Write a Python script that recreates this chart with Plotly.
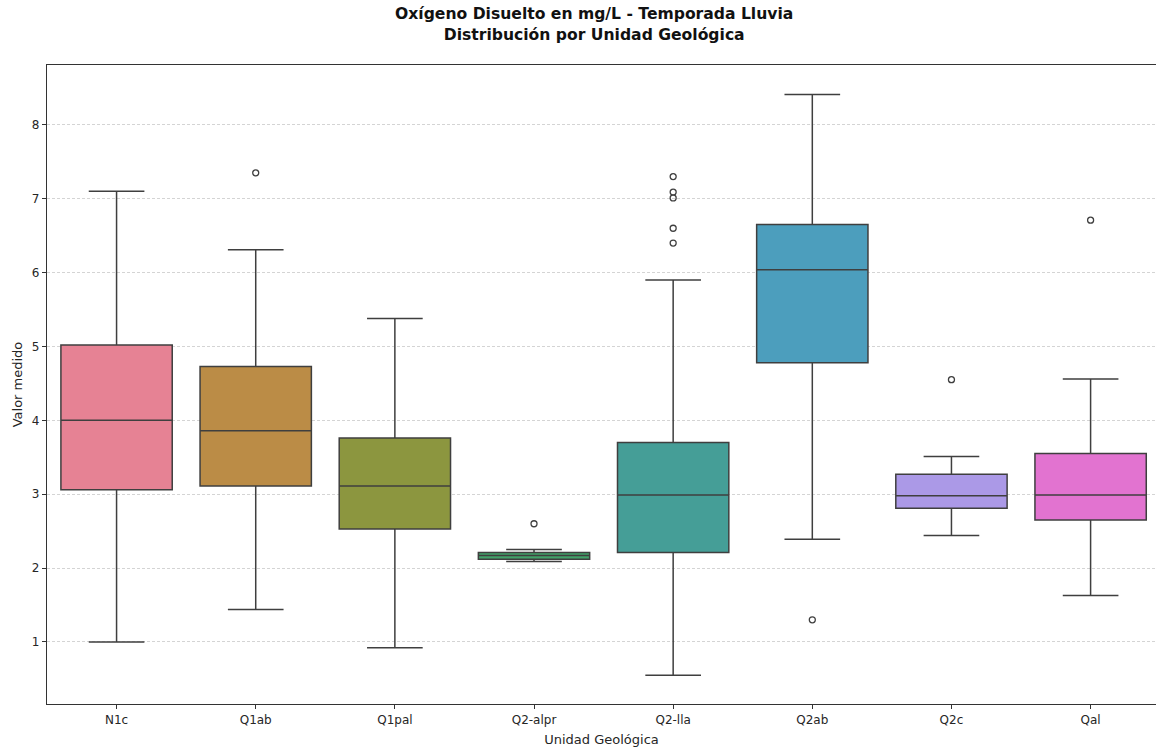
import plotly.graph_objects as go

# Unidades geológicas y estadísticos de cada caja (mg/L)
unidades = ["N1c", "Q1ab", "Q1pal", "Q2-alpr", "Q2-lla", "Q2ab", "Q2c", "Qal"]
bigote_inf = [1.00, 1.44, 0.92, 2.09, 0.55, 2.39, 2.44, 1.63]
q1 = [3.06, 3.11, 2.53, 2.12, 2.21, 4.78, 2.81, 2.65]
mediana = [4.00, 3.86, 3.11, 2.17, 2.99, 6.04, 2.98, 2.99]
q3 = [5.02, 4.73, 3.76, 2.21, 3.70, 6.65, 3.27, 3.55]
bigote_sup = [7.10, 6.31, 5.38, 2.25, 5.90, 8.41, 3.51, 4.56]

# Valores atípicos por unidad
atipicos_unidad = ["Q1ab", "Q2-alpr", "Q2-lla", "Q2-lla", "Q2-lla", "Q2-lla", "Q2-lla",
                   "Q2ab", "Q2c", "Qal"]
atipicos_valor = [7.35, 2.60, 7.30, 7.09, 7.01, 6.60, 6.40, 1.30, 4.55, 6.71]

colores = ["#e68294", "#bb8c46", "#8c963f", "#42a169",
           "#459e97", "#4c9ebd", "#ab99e7", "#e273d0"]

LINEA = "#3f3f3f"
FUENTE = "DejaVu Sans"

fig = go.Figure()

for i, u in enumerate(unidades):
    fig.add_trace(go.Box(
        x=[u],
        q1=[q1[i]], median=[mediana[i]], q3=[q3[i]],
        lowerfence=[bigote_inf[i]], upperfence=[bigote_sup[i]],
        width=0.8, whiskerwidth=0.5,
        fillcolor=colores[i],
        line=dict(color=LINEA, width=1.5),
        boxpoints=False,
        showlegend=False,
    ))

fig.add_trace(go.Scatter(
    x=atipicos_unidad, y=atipicos_valor,
    mode="markers",
    marker=dict(symbol="circle-open", size=6, color=LINEA, line=dict(width=1.3)),
    showlegend=False,
))

fig.update_layout(
    width=1156, height=747,
    margin=dict(l=47, r=0, t=65, b=43),
    paper_bgcolor="white",
    plot_bgcolor="white",
    font=dict(family=FUENTE, size=12, color="#262626"),
    title=dict(
        text="<b>Oxígeno Disuelto en mg/L - Temporada Lluvia<br>Distribución por Unidad Geológica</b>",
        x=0.514, xanchor="center", y=0.974, yanchor="top",
        font=dict(family=FUENTE, size=15.6, color="#111111"),
    ),
)

fig.update_xaxes(
    type="category",
    categoryorder="array", categoryarray=unidades,
    range=[-0.5, 7.47],
    showline=True, linecolor="#333333", linewidth=1.2, mirror=True,
    ticks="outside", ticklen=4, tickcolor="#333333",
    showgrid=False, zeroline=False,
    title=dict(text="Unidad Geológica", standoff=9, font=dict(size=13)),
    tickfont=dict(size=12),
)

fig.update_yaxes(
    range=[0.16, 8.81],
    tickvals=[1, 2, 3, 4, 5, 6, 7, 8],
    showline=True, linecolor="#333333", linewidth=1.2, mirror=False,
    ticks="outside", ticklen=4, tickcolor="#333333",
    showgrid=True, gridcolor="#d4d4d4", gridwidth=0.8, griddash="3px,2px",
    zeroline=False,
    title=dict(text="Valor medido", standoff=6, font=dict(size=13)),
    tickfont=dict(size=12),
)

fig.write_html("out.html")
